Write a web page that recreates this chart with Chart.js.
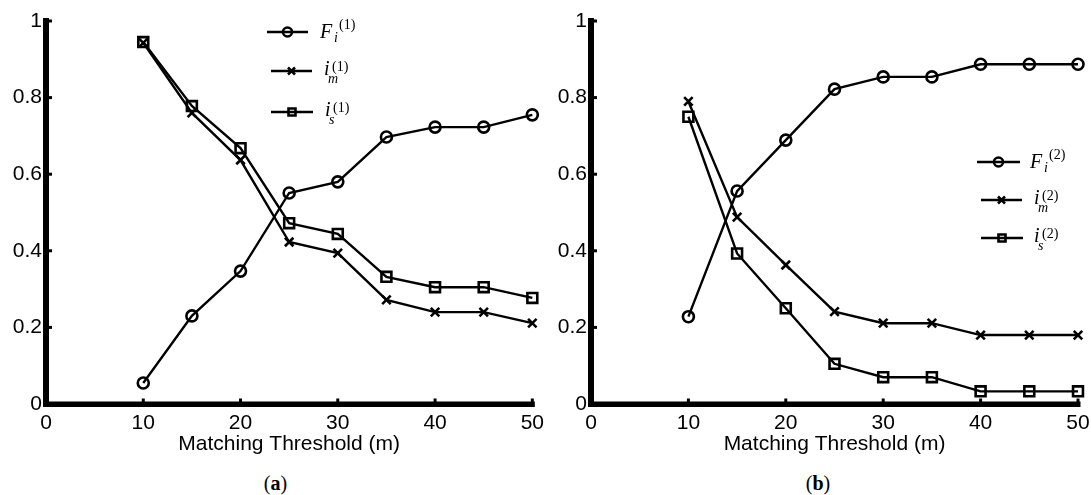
<!DOCTYPE html>
<html>
<head>
<meta charset="utf-8">
<script src="https://cdn.jsdelivr.net/npm/chart.js@4.4.0/dist/chart.umd.min.js"></script>
<style>
  html, body { margin: 0; padding: 0; background: #fff; }
  #wrap { position: relative; width: 1091px; height: 495px; background: #fff; overflow: hidden; }
  canvas { position: absolute; top: 0; }
  .cap { position: absolute; top: 473px; height: 22px; line-height: 20px; text-align: center;
         font-family: "Liberation Serif", "DejaVu Serif", serif; font-size: 20px; color: #000; }
  .cap b { font-weight: bold; }
</style>
</head>
<body>
<div id="wrap">
  <canvas id="ca" width="545" height="457" style="left:0px"></canvas>
  <canvas id="cb" width="546" height="457" style="left:545px"></canvas>
  <div class="cap" style="left:3px; width:545px;">(<b>a</b>)</div>
  <div class="cap" style="left:545px; width:546px;">(<b>b</b>)</div>
</div>
<script>
// ---- data ----
const xValues = [10, 15, 20, 25, 30, 35, 40, 45, 50];
const xTickLabels = ['0', '10', '20', '30', '40', '50'];
const yTickLabels = ['0', '0.2', '0.4', '0.6', '0.8', '1'];
const xTitle = 'Matching Threshold (m)';

const aF  = [0.055, 0.230, 0.347, 0.551, 0.580, 0.697, 0.723, 0.723, 0.755];
const aIm = [0.943, 0.760, 0.637, 0.423, 0.394, 0.272, 0.240, 0.240, 0.211];
const aIs = [0.945, 0.778, 0.668, 0.472, 0.444, 0.332, 0.305, 0.305, 0.277];

const bF  = [0.228, 0.556, 0.689, 0.822, 0.854, 0.854, 0.887, 0.887, 0.887];
const bIm = [0.790, 0.488, 0.363, 0.241, 0.211, 0.211, 0.180, 0.180, 0.180];
const bIs = [0.750, 0.393, 0.250, 0.105, 0.070, 0.070, 0.033, 0.033, 0.033];

const legendA = ['(1)', '(1)', '(1)'];
const legendB = ['(2)', '(2)', '(2)'];

// ---- helpers ----
function pts(ys) { return xValues.map((x, i) => ({ x: x, y: ys[i] })); }

function ds(ys, style, r) {
  return {
    data: pts(ys),
    borderColor: '#000',
    borderWidth: 2.4,
    pointStyle: style,
    pointRadius: r,
    pointHoverRadius: r,
    pointBorderWidth: 2.6,
    pointBorderColor: '#000',
    pointBackgroundColor: 'rgba(0,0,0,0)',
    tension: 0,
    clip: false,
    fill: false
  };
}

function drawMarker(ctx, style, x, y, r) {
  ctx.save();
  ctx.strokeStyle = '#000';
  ctx.lineWidth = 2.6;
  ctx.beginPath();
  if (style === 'circle') {
    ctx.arc(x, y, r, 0, Math.PI * 2);
  } else if (style === 'rect') {
    ctx.rect(x - r, y - r, 2 * r, 2 * r);
  } else {
    ctx.moveTo(x - r, y - r); ctx.lineTo(x + r, y + r);
    ctx.moveTo(x + r, y - r); ctx.lineTo(x - r, y + r);
  }
  ctx.stroke();
  ctx.restore();
}

// thick MATLAB-like axes with inward ticks, positioned by the chart's scales
const axesPlugin = {
  id: 'thickAxes',
  beforeDatasetsDraw(chart) {
    const ctx = chart.ctx;
    const xs = chart.scales.x, ys = chart.scales.y;
    const x0 = xs.getPixelForValue(xs.min), x1 = xs.getPixelForValue(xs.max);
    const y0 = ys.getPixelForValue(ys.min), y1 = ys.getPixelForValue(ys.max);
    ctx.save();
    ctx.fillStyle = '#000';
    ctx.fillRect(x0 - 3, y1 - 3, 6, (y0 - y1) + 6);
    ctx.fillRect(x0 - 3, y0 - 2.5, (x1 - x0) + 5.5, 5.5);
    xs.ticks.forEach(t => {
      const p = xs.getPixelForValue(t.value);
      ctx.fillRect(p - 1.5, y0 - 5.5, 3, 4);
    });
    ys.ticks.forEach(t => {
      const p = ys.getPixelForValue(t.value);
      ctx.fillRect(x0 + 2, p - 1.5, 4, 3);
    });
    ctx.restore();
  }
};

function makeLegendPlugin(rows, sups) {
  return {
    id: 'mathLegend',
    afterDraw(chart) {
      const ctx = chart.ctx;
      ctx.save();
      ctx.fillStyle = '#000';
      ctx.textBaseline = 'alphabetic';
      ctx.textAlign = 'left';
      rows.forEach((r, i) => {
        ctx.strokeStyle = '#000';
        ctx.lineWidth = 2.6;
        ctx.beginPath();
        ctx.moveTo(r.x1, r.y); ctx.lineTo(r.x2, r.y);
        ctx.stroke();
        drawMarker(ctx, r.style, (r.x1 + r.x2) / 2, r.y, r.mr);
        const serif = '"Liberation Serif", "DejaVu Serif", serif';
        ctx.font = 'italic 20px ' + serif;
        ctx.fillText(r.base, r.tx, r.y + r.bDy);
        ctx.font = 'italic 14px ' + serif;
        ctx.fillText(r.sub, r.tx + r.subDx, r.y + r.subDy);
        ctx.font = '14px ' + serif;
        ctx.fillText(sups[i], r.tx + r.supDx, r.y + r.supDy);
      });
      ctx.restore();
    }
  };
}

function makeChart(id, F, Im, Is, rightPad, legendRows, sups) {
  const tickFont = { family: '"Liberation Sans", Arial, sans-serif', size: 21 };
  return new Chart(document.getElementById(id), {
    type: 'line',
    data: { datasets: [ds(F, 'circle', 5.5), ds(Im, 'crossRot', 6), ds(Is, 'rect', 7)] },
    options: {
      responsive: false,
      animation: false,
      devicePixelRatio: 1,
      layout: { padding: { left: 0, top: 21, right: rightPad, bottom: 0 } },
      plugins: { legend: { display: false }, tooltip: { enabled: false }, title: { display: false } },
      events: [],
      scales: {
        x: {
          type: 'linear', min: 0, max: 50,
          afterFit: (s) => { s.height = 53; },
          grid: { display: false, drawTicks: true, tickLength: 6 },
          border: { display: false },
          ticks: {
            stepSize: 10, padding: 1, color: '#000', font: tickFont, maxRotation: 0, autoSkip: false,
            callback: (v) => xTickLabels[Math.round(v / 10)]
          },
          title: { display: true, text: xTitle, color: '#000', padding: 0,
                   font: { family: '"Liberation Sans", Arial, sans-serif', size: 21 } }
        },
        y: {
          type: 'linear', min: 0, max: 1,
          afterFit: (s) => { s.width = 46; },
          grid: { display: false, drawTicks: false },
          border: { display: false },
          ticks: {
            stepSize: 0.2, padding: 4, color: '#000', font: tickFont, autoSkip: false,
            callback: (v) => yTickLabels[Math.round(v / 0.2)]
          }
        }
      }
    },
    plugins: [axesPlugin, makeLegendPlugin(legendRows, sups)]
  });
}

const rowsA = [
  { y: 32,  x1: 267, x2: 308, style: 'circle', mr: 4.5, tx: 320, base: 'F', sub: 'i', bDy: 6, subDx: 14, subDy: 10, supDx: 19, supDy: -3 },
  { y: 71,  x1: 271, x2: 312, style: 'cross',  mr: 3.5, tx: 324, base: 'i', sub: 'm', bDy: 4, subDx: 4, subDy: 12, supDx: 8, supDy: 0 },
  { y: 112, x1: 271, x2: 313, style: 'rect',   mr: 3.5, tx: 325, base: 'i', sub: 's', bDy: 4, subDx: 4, subDy: 12, supDx: 8, supDy: 0 }
];
const rowsB = [
  { y: 162, x1: 432, x2: 475, style: 'circle', mr: 4.5, tx: 485, base: 'F', sub: 'i', bDy: 6, subDx: 14, subDy: 10, supDx: 19, supDy: -3 },
  { y: 200, x1: 436, x2: 477, style: 'cross',  mr: 3.5, tx: 489, base: 'i', sub: 'm', bDy: 4, subDx: 4, subDy: 12, supDx: 8, supDy: 0 },
  { y: 238, x1: 436, x2: 478, style: 'rect',   mr: 3.5, tx: 489, base: 'i', sub: 's', bDy: 4, subDx: 4, subDy: 12, supDx: 8, supDy: 0 }
];

makeChart('ca', aF, aIm, aIs, 12, rowsA, legendA);
makeChart('cb', bF, bIm, bIs, 13, rowsB, legendB);
</script>
</body>
</html>
